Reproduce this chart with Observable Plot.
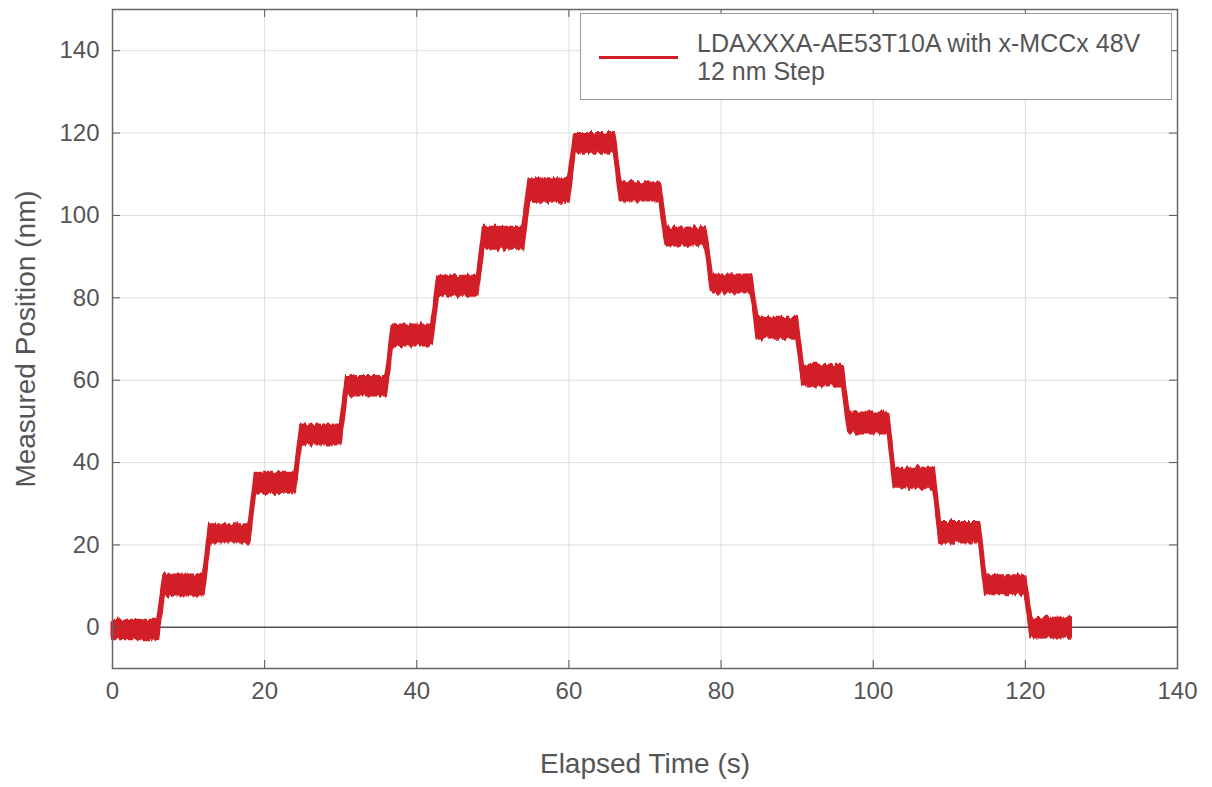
<!DOCTYPE html>
<html>
<head>
<meta charset="utf-8">
<script src="https://cdn.jsdelivr.net/npm/d3@7"></script>
<script src="https://cdn.jsdelivr.net/npm/@observablehq/plot@0.6"></script>
<style>
  html, body { margin: 0; padding: 0; background: #fff; }
  #wrap { position: relative; width: 1212px; height: 787px; font-family: "Liberation Sans", Arial, sans-serif; }
  #legend { position: absolute; left: 580px; top: 13px; width: 590px; height: 85px; border: 1.5px solid #9a9a9a; background: #fff; }
  #legend .swatch { position: absolute; left: 18px; top: 42px; width: 79px; height: 3px; background: #d21f27; }
  #legend .txt { position: absolute; left: 116px; top: 15px; font-size: 25px; line-height: 28px; color: #555; white-space: nowrap; }
</style>
</head>
<body>
<div id="wrap">
  <div id="chart"></div>
  <div id="legend"><div class="swatch"></div><div class="txt">LDAXXXA-AE53T10A with x-MCCx 48V<br>12 nm Step</div></div>
</div>
<script>
// Step timing (s) and measured band edges (nm)
const stepStart = [0, 6, 12, 18, 24, 30, 36, 42, 48, 54, 60, 66, 72, 78, 84, 90, 96, 102, 108, 114, 120];
const stepEnd   = [6, 12, 18, 24, 30, 36, 42, 48, 54, 60, 66, 72, 78, 84, 90, 96, 102, 108, 114, 120, 126];
const stepHi = [1.6, 12.6, 24.8, 37.3, 49.0, 60.8, 73.3, 85.1, 97.0, 108.8, 119.8, 107.8, 96.8, 85.4, 74.9, 63.5, 51.9, 38.5, 25.3, 12.4, 2.1];
const stepLo = [-2.9, 7.7, 20.6, 32.7, 44.4, 56.3, 68.4, 80.5, 91.9, 103.3, 115.2, 103.6, 92.7, 81.3, 70.3, 58.7, 47.3, 33.9, 20.6, 8.0, -2.5];
const transition = 0.8; // s, duration of each move

const xTicks = [0, 20, 40, 60, 80, 100, 120, 140];
const yTicks = [0, 20, 40, 60, 80, 100, 120, 140];

const rows = [];
stepStart.forEach((s, i) => {
  const t0 = i === 0 ? s : s + transition;
  rows.push({t: t0, lo: stepLo[i], hi: stepHi[i]});
  rows.push({t: stepEnd[i], lo: stepLo[i], hi: stepHi[i]});
});

const W = 1212, H = 787;
const mL = 112, mR = 35, mT = 9, mB = 119;
const innerH = H - mT - mB, innerW = W - mL - mR;
const red = "#d21f27";
const tickColor = "#555";

const chart = Plot.plot({
  width: W, height: H,
  marginLeft: mL, marginRight: mR, marginTop: mT, marginBottom: mB,
  style: {fontFamily: '"Liberation Sans", Arial, sans-serif', color: tickColor, background: "#fff"},
  x: {domain: [0, 140]},
  y: {domain: [-10, 150]},
  marks: [
    Plot.gridX(xTicks, {stroke: "#dedede", strokeOpacity: 1}),
    Plot.gridY(yTicks, {stroke: "#dedede", strokeOpacity: 1}),
    Plot.ruleY([0], {stroke: "#555", strokeWidth: 1.5}),
    Plot.areaY(rows, {x: "t", y1: "lo", y2: "hi", fill: red, stroke: red, strokeWidth: 3, strokeLinejoin: "round"}),
    Plot.tickX(xTicks, {x: d => d, stroke: "#555", insetTop: innerH - 8}),
    Plot.tickX(xTicks, {x: d => d, stroke: "#555", insetBottom: innerH - 8}),
    Plot.tickY(yTicks, {y: d => d, stroke: "#555", insetRight: innerW - 8}),
    Plot.tickY(yTicks, {y: d => d, stroke: "#555", insetLeft: innerW - 8}),
    Plot.frame({stroke: "#666", strokeWidth: 1.5}),
    Plot.axisX(xTicks, {tickSize: 0, tickPadding: 13, fontSize: 24, label: "Elapsed Time (s)", labelAnchor: "center", labelArrow: "none", labelOffset: 104}),
    Plot.axisY(yTicks, {tickSize: 0, tickPadding: 13, fontSize: 24, label: "Measured Position (nm)", labelAnchor: "center", labelArrow: "none", labelOffset: 97})
  ]
});

// texture filter (vertical-only jitter) for the measurement-noise look
const svg = d3.select(chart);
const defs = svg.insert("defs", ":first-child");
const f = defs.append("filter").attr("id", "noise").attr("x", "-5%").attr("y", "-20%").attr("width", "110%").attr("height", "140%")
  .attr("color-interpolation-filters", "sRGB");
f.append("feTurbulence").attr("type", "fractalNoise").attr("baseFrequency", "0.3 0.04").attr("numOctaves", 2).attr("seed", 4).attr("result", "n");
f.append("feColorMatrix").attr("in", "n").attr("type", "matrix")
  .attr("values", "1 0 0 0 0  0 1 0 0 0  0 0 0 0 0.5  0 0 0 0 1").attr("result", "m");
f.append("feDisplacementMap").attr("in", "SourceGraphic").attr("in2", "m").attr("scale", 8).attr("xChannelSelector", "B").attr("yChannelSelector", "R");
svg.select('g[aria-label="area"]').attr("filter", "url(#noise)");

// axis label sizes
svg.selectAll('g[aria-label="x-axis label"] text, g[aria-label="y-axis label"] text').attr("font-size", 28).attr("fill", "#555");

document.getElementById("chart").appendChild(chart);
</script>
</body>
</html>
